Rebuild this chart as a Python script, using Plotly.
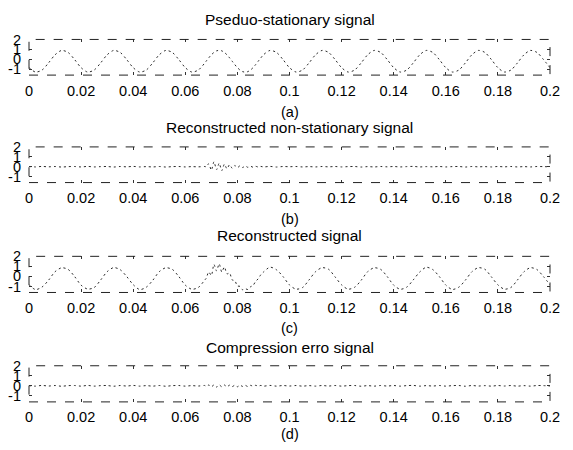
import plotly.graph_objects as go

# ---------------- data ----------------
# sample times in milliseconds
t_ms = [0, 2.5, 5, 7.5, 10, 12.5, 15, 17.5, 20, 22.5, 25, 27.5, 30, 32.5,
        35, 37.5, 40, 42.5, 45, 47.5, 50, 52.5, 55, 57.5, 60, 62.5, 65, 67.5,
        68, 69, 70, 71, 72, 73, 74, 75, 76, 77, 78, 79, 80, 81, 82, 83, 84,
        85, 86, 87, 88, 89, 90,
        92.5, 95, 97.5, 100, 102.5, 105, 107.5, 110, 112.5, 115, 117.5, 120,
        122.5, 125, 127.5, 130, 132.5, 135, 137.5, 140, 142.5, 145, 147.5,
        150, 152.5, 155, 157.5, 160, 162.5, 165, 167.5, 170, 172.5, 175,
        177.5, 180, 182.5, 185, 187.5, 190, 192.5, 195, 197.5, 200]

pseudo_stationary = [
    -0.85, -1.29, -1.09, -0.37, 0.45, 0.89, 0.69, -0.03,
    -0.85, -1.29, -1.09, -0.37, 0.45, 0.89, 0.69, -0.03,
    -0.85, -1.29, -1.09, -0.37, 0.45, 0.89, 0.69, -0.03,
    -0.85, -1.29, -1.09, -0.37,
    -0.20, 0.14, 0.45, 0.69, 0.85, 0.90, 0.85, 0.69, 0.45, 0.14, -0.20,
    -0.54, -0.85, -1.09, -1.25, -1.30, -1.25, -1.09, -0.85, -0.54, -0.20,
    0.14, 0.45,
    0.89, 0.69, -0.03,
    -0.85, -1.29, -1.09, -0.37, 0.45, 0.89, 0.69, -0.03,
    -0.85, -1.29, -1.09, -0.37, 0.45, 0.89, 0.69, -0.03,
    -0.85, -1.29, -1.09, -0.37, 0.45, 0.89, 0.69, -0.03,
    -0.85, -1.29, -1.09, -0.37, 0.45, 0.89, 0.69, -0.03,
    -0.85, -1.29, -1.09, -0.37, 0.45, 0.89, 0.69, -0.03,
    -0.85]

non_stationary = [
    0.02, -0.02, 0.03, -0.01, 0.02, -0.03, 0.01, 0.02, -0.02, 0.03,
    -0.02, 0.01, 0.02, -0.03, 0.02, -0.01, 0.03, -0.02, 0.01, -0.02,
    0.02, -0.03, 0.01, 0.02, -0.02, 0.01, -0.01, 0.02,
    0.00, 0.30, -0.35, 0.50, -0.30, 0.35, -0.40, 0.25, -0.20, 0.20,
    -0.15, 0.12, -0.10, 0.10, -0.08, 0.08, -0.06, 0.05, -0.05, 0.04,
    -0.03, 0.03, -0.02,
    0.03, -0.03, 0.02, 0.00, 0.02, -0.02, 0.01, -0.02, 0.02, -0.01,
    0.02, -0.02, 0.01, 0.02, -0.03, 0.01, -0.02, 0.02, -0.01, 0.02,
    -0.02, 0.01, 0.03, -0.02, 0.01, -0.01, 0.02, -0.02, 0.01, 0.02,
    -0.03, 0.02, -0.01, 0.01, -0.02, 0.02, -0.01, 0.02, -0.02, 0.01,
    -0.02, 0.02, 0.01, -0.01]

reconstructed = [
    -0.83, -1.31, -1.06, -0.38, 0.47, 0.86, 0.70, -0.01,
    -0.87, -1.26, -1.11, -0.36, 0.47, 0.88, 0.67, -0.01,
    -0.82, -1.31, -1.08, -0.39, 0.47, 0.86, 0.70, -0.01,
    -0.87, -1.28, -1.10, -0.35,
    -0.20, 0.44, 0.10, 1.19, 0.55, 1.25, 0.45, 0.94, 0.25, 0.34, -0.35,
    -0.42, -0.95, -0.99, -1.33, -1.22, -1.31, -1.04, -0.90, -0.50, -0.23,
    0.17, 0.43,
    0.92, 0.66, -0.01,
    -0.85, -1.27, -1.11, -0.35, 0.47, 0.87, 0.71, -0.05,
    -0.84, -1.27, -1.08, -0.39, 0.47, 0.86, 0.70, -0.01,
    -0.87, -1.28, -1.07, -0.35, 0.44, 0.91, 0.68, -0.01,
    -0.86, -1.30, -1.07, -0.38, 0.46, 0.87, 0.71, -0.04,
    -0.84, -1.27, -1.10, -0.36, 0.46, 0.87, 0.68, -0.02,
    -0.83]

compression_error = [
    0.02, -0.03, 0.04, -0.02, 0.03, -0.04, 0.02, 0.03, -0.03, 0.04,
    -0.03, 0.02, 0.03, -0.04, 0.03, -0.02, 0.04, -0.03, 0.02, -0.03,
    0.03, -0.04, 0.02, 0.03, -0.03, 0.02, -0.02, 0.03,
    -0.05, 0.08, -0.10, 0.09, -0.12, 0.10, -0.09, 0.08, -0.10, 0.07,
    -0.08, 0.06, -0.09, 0.07, -0.06, 0.05, -0.07, 0.05, -0.04, 0.05,
    -0.03, 0.04, -0.03,
    0.04, -0.03, 0.03, -0.02, 0.03, -0.03, 0.02, -0.03, 0.03, -0.02,
    0.03, -0.03, 0.02, 0.03, -0.04, 0.02, -0.03, 0.03, -0.02, 0.03,
    -0.03, 0.02, 0.04, -0.03, 0.02, -0.02, 0.03, -0.03, 0.02, 0.03,
    -0.04, 0.03, -0.02, 0.02, -0.03, 0.03, -0.02, 0.03, -0.03, 0.02,
    -0.03, 0.03, 0.02, -0.02]

titles = ["Pseduo-stationary signal", "Reconstructed non-stationary signal",
          "Reconstructed signal", "Compression erro signal"]
panel_labels = ["(a)", "(b)", "(c)", "(d)"]
x_tick_vals = [0, 0.02, 0.04, 0.06, 0.08, 0.1, 0.12, 0.14, 0.16, 0.18, 0.2]
x_tick_text = ["0", "0.02", "0.04", "0.06", "0.08", "0.1", "0.12", "0.14",
               "0.16", "0.18", "0.2"]
y_tick_vals = [2, 1, 0, -1]
y_tick_text = ["2", "1", "0", "-1"]

series = [pseudo_stationary, non_stationary, reconstructed, compression_error]

# ---------------- layout (pixel positions in the 573x450 window) ----------
PAGE_PAD = 8                      # default <body> margin of the html page
W, H = 573 - 2 * PAGE_PAD, 450 - 2 * PAGE_PAD
plot_left, plot_right = 28, 550
panel_top = [32, 142, 254, 366]
panel_bot = [68.5, 178.5, 291, 403]
title_y = [12, 122, 233, 347]
label_y = [106, 216, 327, 436]


def py(v):
    """window pixel row -> paper fraction of the figure"""
    return 1 - (v - PAGE_PAD) / H


FONT = "Liberation Sans, Arial, sans-serif"
x_sec = [v / 1000 for v in t_ms]

fig = go.Figure()
annotations = []
shapes = []
layout_axes = {}
for i in range(4):
    n = "" if i == 0 else str(i + 1)
    fig.add_trace(go.Scatter(
        x=x_sec, y=series[i], mode="lines",
        line=dict(color="#2a2a2a", width=1, dash="2px,3px",
                  shape="spline", smoothing=0.8),
        xaxis="x" + n, yaxis="y" + n, showlegend=False, hoverinfo="skip"))
    layout_axes["xaxis" + n] = dict(
        domain=[0, 1], range=[0, 0.2], anchor="y" + n,
        tickvals=x_tick_vals, ticktext=x_tick_text,
        ticks="inside", ticklen=3, tickcolor="#333333", mirror="ticks",
        showline=False, showgrid=False, zeroline=False,
        ticklabelstandoff=5,
        tickfont=dict(family=FONT, size=14.5, color="black"))
    layout_axes["yaxis" + n] = dict(
        domain=[py(panel_bot[i]), py(panel_top[i])], range=[-1.6, 2.0],
        anchor="x" + n,
        tickvals=y_tick_vals, ticktext=y_tick_text,
        ticks="inside", ticklen=3, tickcolor="#333333", mirror="ticks",
        showline=False, showgrid=False, zeroline=False,
        ticklabelstandoff=7,
        tickfont=dict(family=FONT, size=14.5, color="black"))
    shapes.append(dict(type="rect", xref="x" + n + " domain",
                       yref="y" + n + " domain", x0=0, x1=1, y0=0, y1=1,
                       line=dict(color="#222222", width=1, dash="dash")))
    annotations.append(dict(text=titles[i], xref="x" + n + " domain", x=0.5,
                            yref="paper", y=py(title_y[i]),
                            xanchor="center", yanchor="middle",
                            showarrow=False,
                            font=dict(family=FONT, size=15.5, color="black")))
    annotations.append(dict(text=panel_labels[i], xref="x" + n + " domain",
                            x=0.5, yref="paper", y=py(label_y[i]),
                            xanchor="center", yanchor="middle",
                            showarrow=False,
                            font=dict(family=FONT, size=14.5, color="black")))

fig.update_layout(
    width=W, height=H,
    margin=dict(l=plot_left - PAGE_PAD, r=W - (plot_right - PAGE_PAD),
                t=0, b=0),
    paper_bgcolor="white", plot_bgcolor="white",
    annotations=annotations, shapes=shapes,
    **layout_axes)

fig.write_html("out.html")
